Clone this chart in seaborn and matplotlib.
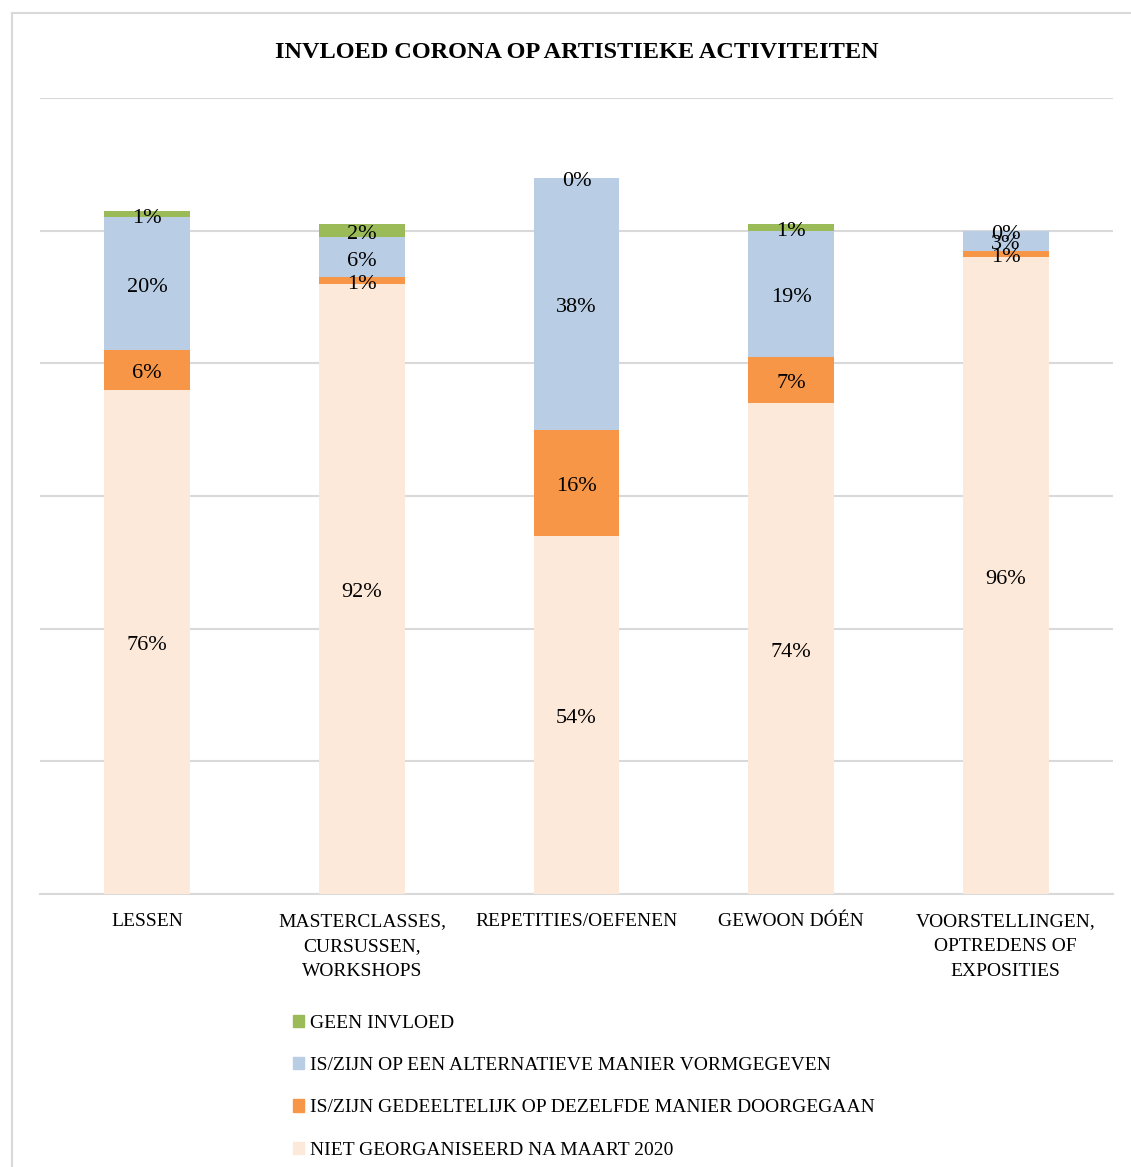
import matplotlib
matplotlib.use("Agg")
import matplotlib.pyplot as plt
import matplotlib.patches as mpatches
import matplotlib.transforms as mtransforms
import seaborn as sns
import numpy as np
import pandas as pd

categories = ["LESSEN", "MASTERCLASSES,\nCURSUSSEN,\nWORKSHOPS", "REPETITIES/OEFENEN",
              "GEWOON DÓÉN", "VOORSTELLINGEN,\nOPTREDENS OF\nEXPOSITIES"]
series_names = ["NIET GEORGANISEERD NA MAART 2020",
                "IS/ZIJN GEDEELTELIJK OP DEZELFDE MANIER DOORGEGAAN",
                "IS/ZIJN OP EEN ALTERNATIEVE MANIER VORMGEGEVEN",
                "GEEN INVLOED"]
niet_georganiseerd = [76, 92, 54, 74, 96]
gedeeltelijk = [6, 1, 16, 7, 1]
alternatief = [20, 6, 38, 19, 3]
geen_invloed = [1, 2, 0, 1, 0]
colors = ["#FDE9D9", "#F79646", "#B9CDE5", "#9BBB59"]

sns.set_theme(style="white")
plt.rcParams['font.family'] = ['Liberation Serif', 'DejaVu Serif']
plt.rcParams['text.color'] = 'black'
plt.rcParams['xtick.color'] = 'black'

fig = plt.figure(figsize=(11.31, 11.67), dpi=100)
W, H = 1131, 1167
ax = fig.add_axes([40 / W, (H - 894) / H, (1113 - 40) / W, (894 - 98) / H])

series = [niet_georganiseerd, gedeeltelijk, alternatief, geen_invloed]
cum = np.cumsum(np.array(series), axis=0)
df = pd.DataFrame({"cat": categories})

# draw from the top-most cumulative down so lower segments overlay
for i in range(len(series) - 1, -1, -1):
    df["v"] = cum[i]
    sns.barplot(data=df, x="cat", y="v", color=colors[i], width=0.4,
                saturation=1, ax=ax, zorder=3, edgecolor="none", linewidth=0)

# labels (slightly below centre, as in the reference)
offset = mtransforms.offset_copy(ax.transData, fig=fig, x=0, y=-4, units="dots")
for i in range(len(series)):
    for j in range(len(categories)):
        bottom = cum[i][j] - series[i][j]
        y = bottom + series[i][j] / 2
        ax.text(j, y, f"{series[i][j]}%", ha="center", va="center",
                fontsize=16, color="black", zorder=5, transform=offset)

ax.set_ylim(0, 120)
ax.set_xlim(-0.5, 4.5)
ax.set_yticks(np.arange(0, 121, 20))
ax.set_yticklabels([])
ax.tick_params(axis="y", length=0)
ax.grid(axis="y", color="#D9D9D9", linewidth=1.5, zorder=0)
ax.set_axisbelow(True)
for s in ["top", "right", "left"]:
    ax.spines[s].set_visible(False)
ax.spines["bottom"].set_color("#D9D9D9")
ax.spines["bottom"].set_linewidth(1.5)
ax.set_xlabel("")
ax.set_ylabel("")
ax.set_xticks(range(len(categories)))
ax.set_xticklabels(categories, fontsize=14, va="top", linespacing=1.6, color="black")
ax.tick_params(axis="x", length=0, pad=14)

fig.text(577 / W, 1 - 52 / H, "INVLOED CORONA OP ARTISTIEKE ACTIVITEITEN",
         ha="center", va="center", fontsize=17.5, fontweight="bold", color="black")

# legend
handles = [mpatches.Patch(color=colors[i], label=series_names[i]) for i in [3, 2, 1, 0]]
fig.legend(handles=handles, loc="upper left", bbox_to_anchor=(285 / W, 1 - 1007 / H),
           frameon=False, fontsize=14, handlelength=0.6, handleheight=0.6,
           handletextpad=0.3, labelspacing=1.3, borderaxespad=0)

# outer border
fig.patches.append(mpatches.Rectangle((12 / W, -0.01), 1.1, 1 - 13 / H + 0.01,
                                      transform=fig.transFigure, fill=False,
                                      edgecolor="#D9D9D9", linewidth=1.5))

fig.savefig("out.png", dpi=100)
